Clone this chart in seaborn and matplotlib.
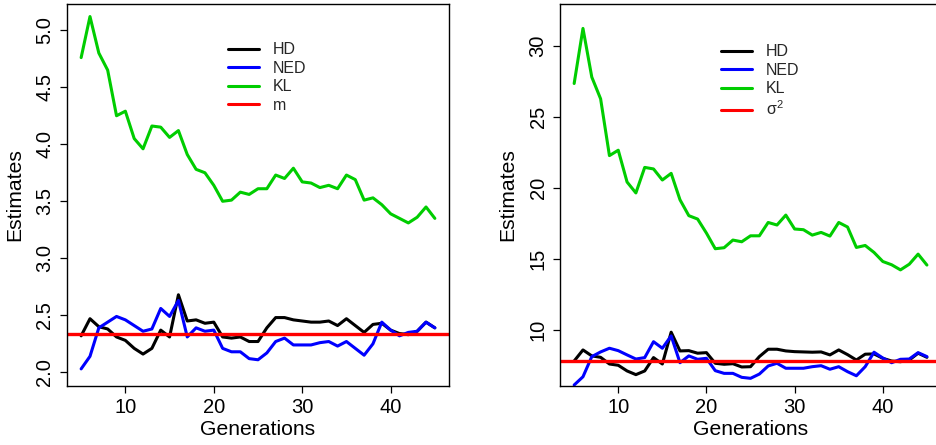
import numpy as np
import pandas as pd
import matplotlib
matplotlib.use("Agg")
import matplotlib.pyplot as plt
import seaborn as sns
from matplotlib.lines import Line2D

# Generations on the x axis
generations = list(range(5, 46))

# Estimates of m
hd_m = [2.32, 2.47, 2.40, 2.38, 2.31, 2.28, 2.21, 2.16, 2.21, 2.37,
        2.31, 2.68, 2.45, 2.46, 2.43, 2.44, 2.31, 2.30, 2.31, 2.27,
        2.27, 2.39, 2.48, 2.48, 2.46, 2.45, 2.44, 2.44, 2.45, 2.41,
        2.47, 2.41, 2.35, 2.42, 2.43, 2.37, 2.34, 2.33, 2.36, 2.44, 2.39]
ned_m = [2.03, 2.14, 2.39, 2.44, 2.49, 2.46, 2.41, 2.36, 2.38, 2.56,
         2.49, 2.63, 2.31, 2.39, 2.36, 2.37, 2.21, 2.18, 2.18, 2.12,
         2.11, 2.17, 2.27, 2.30, 2.24, 2.24, 2.24, 2.26, 2.27, 2.23,
         2.27, 2.21, 2.15, 2.25, 2.44, 2.37, 2.32, 2.35, 2.36, 2.44, 2.39]
kl_m = [4.76, 5.12, 4.80, 4.65, 4.25, 4.29, 4.05, 3.96, 4.16, 4.15,
        4.06, 4.12, 3.91, 3.78, 3.75, 3.64, 3.50, 3.51, 3.58, 3.56,
        3.61, 3.61, 3.73, 3.70, 3.79, 3.67, 3.66, 3.62, 3.64, 3.61,
        3.73, 3.69, 3.51, 3.53, 3.47, 3.39, 3.35, 3.31, 3.36, 3.45, 3.35]
true_m = 2.335

# Estimates of sigma^2
hd_s2 = [7.81, 8.59, 8.17, 8.07, 7.60, 7.51, 7.11, 6.85, 7.11, 8.05,
         7.60, 9.84, 8.52, 8.54, 8.36, 8.40, 7.65, 7.58, 7.62, 7.39,
         7.41, 8.12, 8.64, 8.64, 8.52, 8.47, 8.45, 8.43, 8.45, 8.24,
         8.59, 8.26, 7.88, 8.29, 8.31, 8.00, 7.81, 7.76, 7.88, 8.36, 8.07]
ned_s2 = [6.12, 6.70, 8.12, 8.45, 8.71, 8.54, 8.24, 7.95, 8.05, 9.17,
          8.71, 9.58, 7.69, 8.17, 7.93, 8.00, 7.13, 6.94, 6.94, 6.66,
          6.59, 6.89, 7.46, 7.65, 7.30, 7.30, 7.30, 7.41, 7.48, 7.23,
          7.41, 7.06, 6.77, 7.41, 8.43, 8.02, 7.69, 7.93, 7.95, 8.40, 8.12]
kl_s2 = [27.36, 31.24, 27.81, 26.28, 22.28, 22.66, 20.42, 19.65, 21.45, 21.34,
         20.56, 21.03, 19.17, 18.05, 17.81, 16.82, 15.72, 15.79, 16.33, 16.21,
         16.63, 16.63, 17.57, 17.39, 18.09, 17.11, 17.06, 16.68, 16.87, 16.61,
         17.57, 17.25, 15.81, 15.95, 15.46, 14.82, 14.59, 14.23, 14.63, 15.34, 14.57]
true_s2 = 7.81

methods = ["HD", "NED", "KL"]
colors = {"HD": "#000000", "NED": "#0000FF", "KL": "#00CD00"}
true_color = "#FF0000"

sns.set_theme(style="ticks")
plt.rcParams["font.family"] = ["Liberation Sans", "DejaVu Sans"]
plt.rcParams["mathtext.fontset"] = "custom"
plt.rcParams["mathtext.rm"] = "Liberation Sans"
plt.rcParams["mathtext.it"] = "Liberation Sans"

fig = plt.figure(figsize=(9.37, 4.45), dpi=100)
ax_l = fig.add_axes([0.0715, 0.1326, 0.4077, 0.8584])
ax_r = fig.add_axes([0.5977, 0.1326, 0.4066, 0.8584])


def long_frame(hd, ned, kl):
    return pd.DataFrame({
        "Generations": generations * 3,
        "Estimates": hd + ned + kl,
        "Method": ["HD"] * len(hd) + ["NED"] * len(ned) + ["KL"] * len(kl),
    })


def draw_panel(ax, df, true_val, true_label, ylim, yticks, leg_xy):
    sns.lineplot(data=df, x="Generations", y="Estimates", hue="Method",
                 hue_order=methods, palette=colors, linewidth=2.2,
                 legend=False, ax=ax)
    ax.axhline(true_val, color=true_color, linewidth=2.4)
    ax.set_xlim(3.4, 46.6)
    ax.set_ylim(*ylim)
    ax.set_xticks([10, 20, 30, 40])
    ax.set_yticks(yticks)
    ax.tick_params(axis="both", direction="out", length=5, width=0.9,
                   labelsize=14.5, color="black", labelcolor="black", pad=4)
    ax.tick_params(axis="y", labelrotation=90)
    for lab in ax.get_yticklabels():
        lab.set_verticalalignment("center")
    ax.set_xlabel("Generations", fontsize=15.2, color="black", labelpad=2)
    ax.set_ylabel("Estimates", fontsize=15.2, color="black", labelpad=8)
    for sp in ax.spines.values():
        sp.set_visible(True)
        sp.set_color("black")
        sp.set_linewidth(1.0)
    handles = [Line2D([], [], color=colors[m], linewidth=2.2) for m in methods]
    handles.append(Line2D([], [], color=true_color, linewidth=2.2))
    ax.legend(handles, methods + [true_label], loc="upper left",
              bbox_to_anchor=leg_xy, frameon=False, fontsize=11.5,
              handlelength=1.95, handletextpad=0.85, labelspacing=0.22,
              borderpad=0, borderaxespad=0)


draw_panel(ax_l, long_frame(hd_m, ned_m, kl_m), true_m, "m",
           (1.88, 5.23), [2.0, 2.5, 3.0, 3.5, 4.0, 4.5, 5.0], (0.421, 0.900))
ax_l.set_yticklabels(["2.0", "2.5", "3.0", "3.5", "4.0", "4.5", "5.0"])
draw_panel(ax_r, long_frame(hd_s2, ned_s2, kl_s2), true_s2, r"$\sigma^2$",
           (6.05, 32.96), [10, 15, 20, 25, 30], (0.422, 0.895))

fig.savefig("out.png", dpi=100)
